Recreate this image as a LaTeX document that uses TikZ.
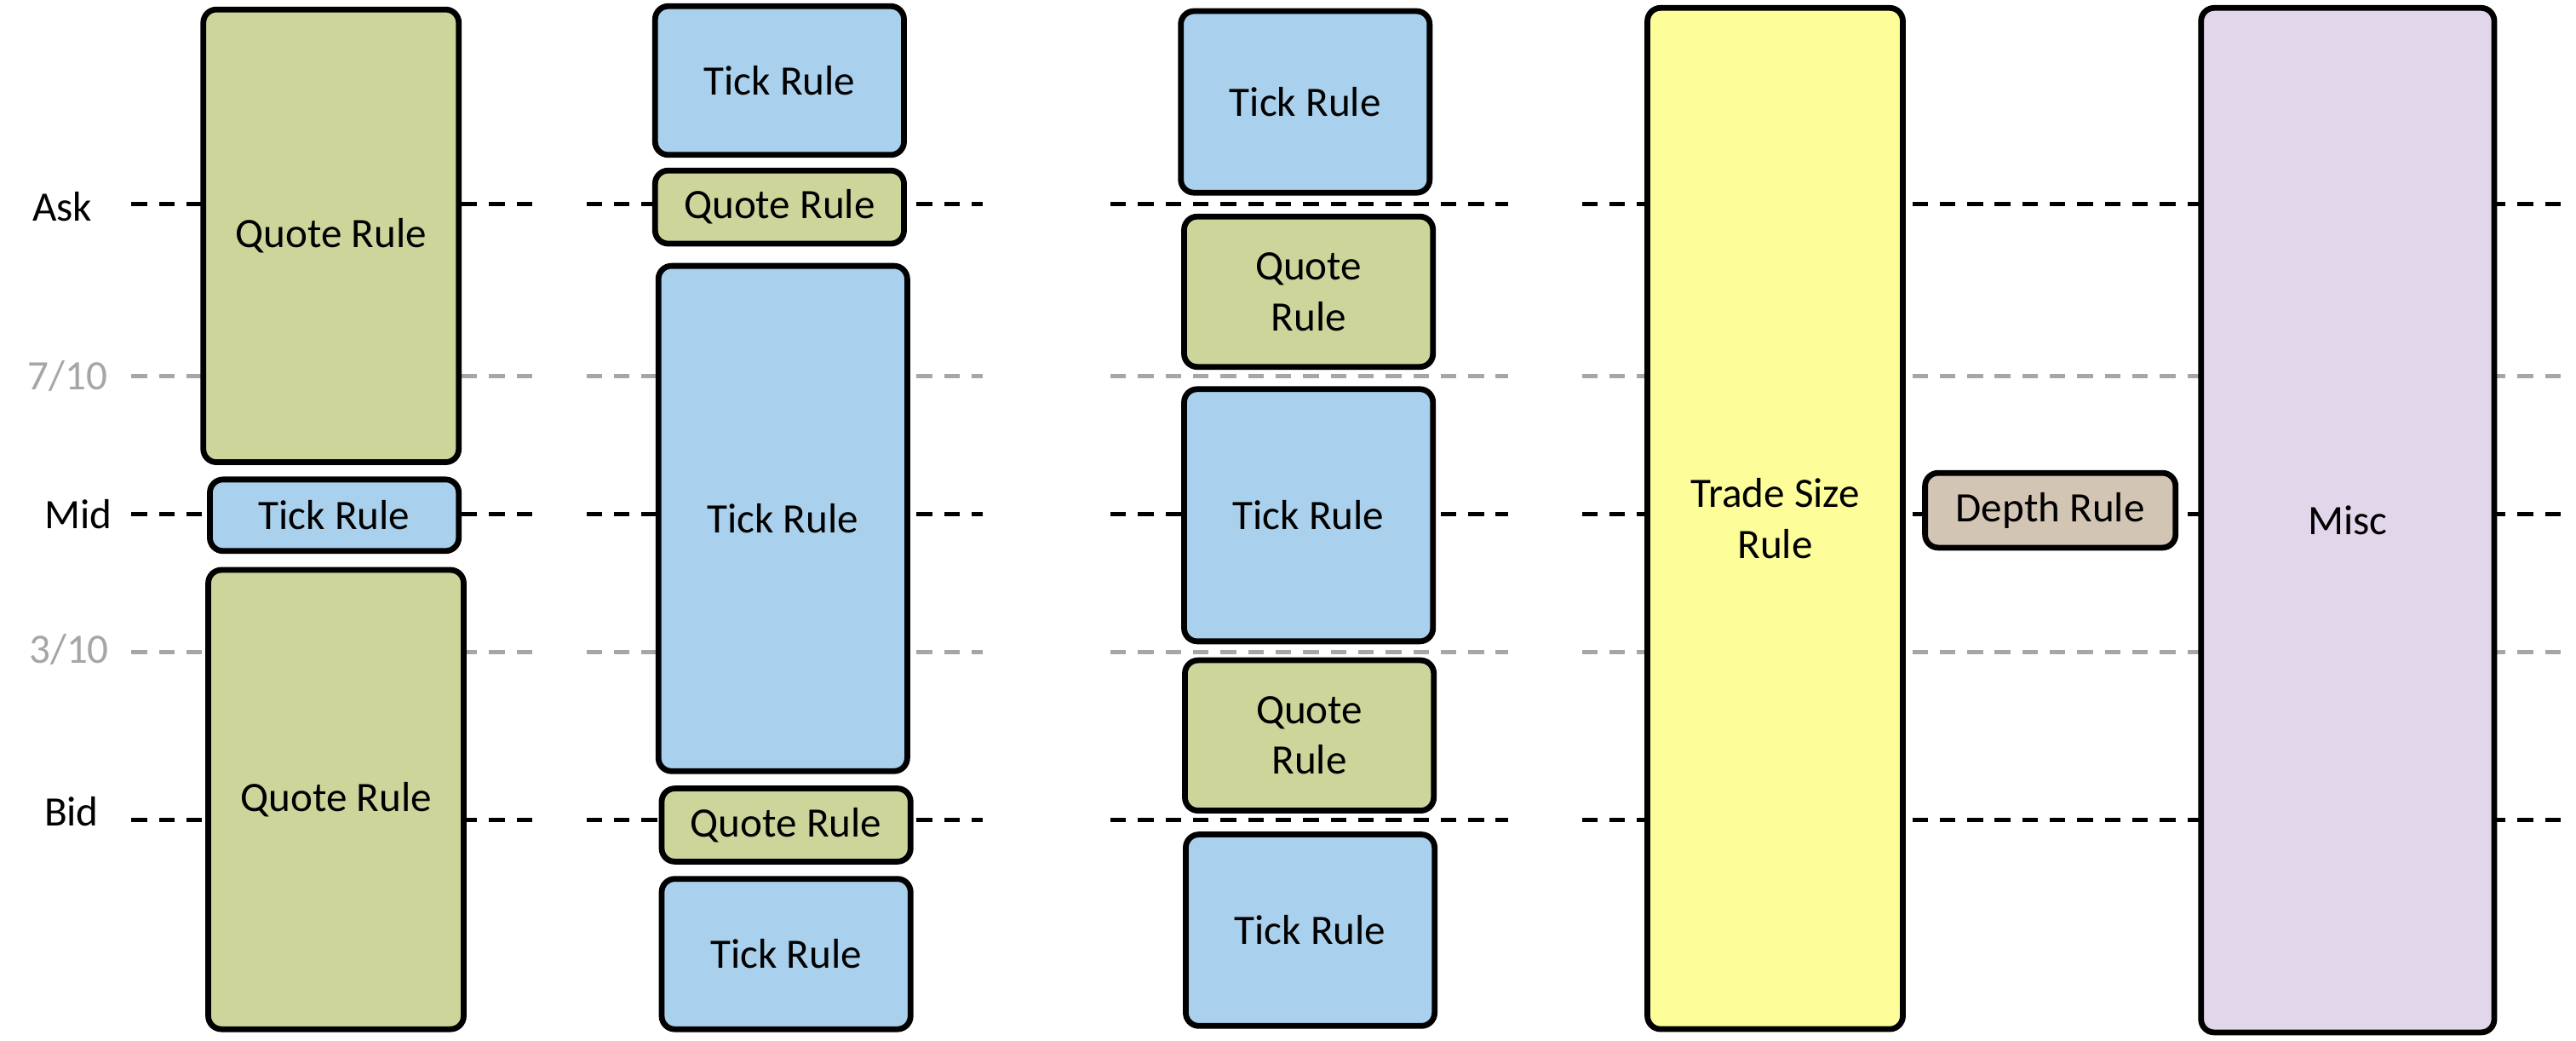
\documentclass[tikz,border=0pt]{standalone}
\usepackage{fontspec}
\setmainfont{Carlito}
\usepackage{xcolor}
\definecolor{quotegreen}{HTML}{CDD59B}
\definecolor{tickblue}{HTML}{A9D0EC}
\definecolor{tradeyellow}{HTML}{FDFD99}
\definecolor{misclilac}{HTML}{E2D6EA}
\definecolor{depthtan}{HTML}{D3C5B4}
\definecolor{levelgray}{HTML}{A6A6A6}
\tikzstyle{rulebox} = [draw=black, line width=2pt, rounded corners=0.16cm, align=center, inner sep=0pt, font=\fontsize{14.5}{17.6}\selectfont]
\tikzstyle{quotebox} = [rulebox, fill=quotegreen]
\tikzstyle{tickbox} = [rulebox, fill=tickblue]
\tikzstyle{mainlvl} = [line width=1.45pt, dash pattern=on 0.19cm off 0.145cm]
\tikzstyle{fraclvl} = [mainlvl, draw=levelgray]
\tikzstyle{lvltext} = [inner sep=0pt, font=\fontsize{14.5}{17.6}\selectfont]

\begin{document}
\begin{tikzpicture}[x=0.02cm, y=-0.02cm]
    \useasboundingbox (0,0) rectangle (1568,633);

    % price levels, drawn first so the boxes hide them
    \foreach \xa/\xb in {80/325, 357/598, 676/918, 963/1560} {
        \draw[mainlvl] (\xa,124) -- (\xb,124);
        \draw[fraclvl] (\xa,229) -- (\xb,229);
        \draw[mainlvl] (\xa,313) -- (\xb,313);
        \draw[fraclvl] (\xa,397) -- (\xb,397);
        \draw[mainlvl] (\xa,499) -- (\xb,499);
    }

    \node[lvltext] (ask) at (38,126) {Ask};
    \node[lvltext, text=levelgray] (seven) at (41,229) {7/10};
    \node[lvltext] (mid) at (47.5,313) {Mid};
    \node[lvltext, text=levelgray] (three) at (42,395) {3/10};
    \node[lvltext] (bid) at (43.5,494) {Bid};

    % first column
    \node[quotebox, minimum width=3.11cm, minimum height=5.51cm] (qa) at (201.5,143.5) {Quote Rule};
    \node[tickbox, minimum width=3.03cm, minimum height=0.87cm] (ta) at (203.5,313.5) {Tick Rule};
    \node[quotebox, minimum width=3.11cm, minimum height=5.59cm] (qb) at (204.5,486.5) {Quote Rule};

    % second column
    \node[tickbox, minimum width=3.03cm, minimum height=1.81cm] (tb) at (474.5,49) {Tick Rule};
    \node[quotebox, minimum width=3.03cm, minimum height=0.89cm] (qc) at (474.5,126) {Quote Rule};
    \node[tickbox, minimum width=3.03cm, minimum height=6.15cm] (tc) at (476.5,315.5) {Tick Rule};
    \node[quotebox, minimum width=3.03cm, minimum height=0.89cm] (qd) at (478.5,502) {Quote Rule};
    \node[tickbox, minimum width=3.03cm, minimum height=1.83cm] (td) at (478.5,580.5) {Tick Rule};

    % third column
    \node[tickbox, minimum width=3.03cm, minimum height=2.21cm] (te) at (794.5,62) {Tick Rule};
    \node[quotebox, minimum width=3.03cm, minimum height=1.83cm] (qe) at (796.5,177.5) {Quote\\Rule};
    \node[tickbox, minimum width=3.03cm, minimum height=3.07cm] (tf) at (796.5,313.5) {Tick Rule};
    \node[quotebox, minimum width=3.03cm, minimum height=1.83cm] (qf) at (797,447.5) {Quote\\Rule};
    \node[tickbox, minimum width=3.03cm, minimum height=2.33cm] (tg) at (797.5,566) {Tick Rule};

    % other rules
    \node[rulebox, fill=tradeyellow, minimum width=3.11cm, minimum height=12.43cm] (trade) at (1080.5,315.5) {Trade Size\\Rule};
    \node[rulebox, fill=depthtan, minimum width=3.05cm, minimum height=0.91cm] (depth) at (1248,310.5) {Depth Rule};
    \node[rulebox, fill=misclilac, minimum width=3.57cm, minimum height=12.47cm] (misc) at (1429,316.5) {Misc};
\end{tikzpicture}
\end{document}
